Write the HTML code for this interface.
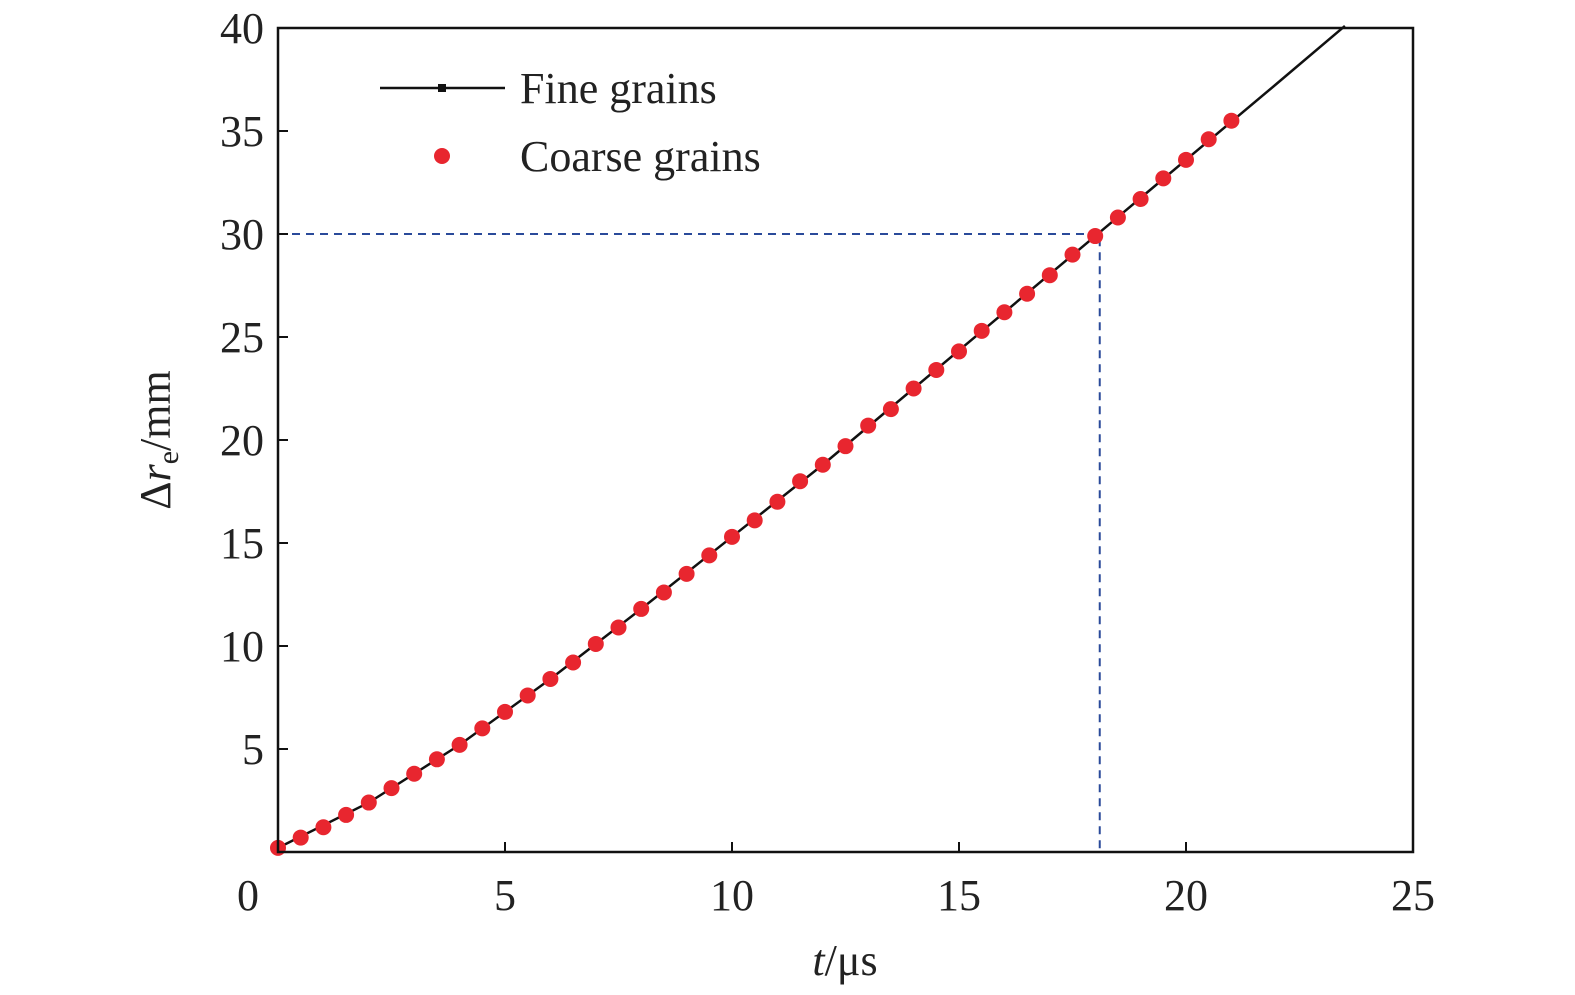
<!DOCTYPE html>
<html><head><meta charset="utf-8"><style>
html,body{margin:0;padding:0;background:#fff;}
svg{display:block;font-family:"Liberation Serif",serif;}
</style></head><body>
<svg id="chart" width="1575" height="995" viewBox="0 0 1575 995">
<g id="dashes"></g>
<g id="series"></g>
<g id="axes"></g>
<g>
  <line x1="380" y1="88" x2="505" y2="88" stroke="#111" stroke-width="2.5"/>
  <rect x="438" y="84" width="8" height="8" fill="#111"/>
  <text x="520" y="103" font-size="44" fill="#222">Fine grains</text>
  <circle cx="442" cy="156" r="8" fill="#e8262f"/>
  <text x="520" y="171" font-size="44" fill="#222">Coarse grains</text>
</g>
<text x="845" y="975" font-size="44" text-anchor="middle" fill="#222"><tspan font-style="italic">t</tspan>/μs</text>
<text transform="translate(170,440) rotate(-90)" font-size="44" text-anchor="middle" fill="#222">Δ<tspan font-style="italic">r</tspan><tspan font-size="30" dy="8">e</tspan><tspan dy="-8">/mm</tspan></text>
</svg>
<script>
const tValues=[0,0.5,1,1.5,2,2.5,3,3.5,4,4.5,5,5.5,6,6.5,7,7.5,8,8.5,9,9.5,10,10.5,11,11.5,12,12.5,13,13.5,14,14.5,15,15.5,16,16.5,17,17.5,18,18.5,19,19.5,20,20.5,21];
const coarseValues=[0.2,0.7,1.2,1.8,2.4,3.1,3.8,4.5,5.2,6.0,6.8,7.6,8.4,9.2,10.1,10.9,11.8,12.6,13.5,14.4,15.3,16.1,17.0,18.0,18.8,19.7,20.7,21.5,22.5,23.4,24.3,25.3,26.2,27.1,28.0,29.0,29.9,30.8,31.7,32.7,33.6,34.6,35.5];
const fineT=[0,2,4,6,8,10,12,14,16,18,20,22,23.5];
const fineValues=[0.2,2.4,5.2,8.4,11.8,15.3,18.8,22.5,26.2,29.9,33.6,37.3,40.1];
const xTicks=[0,5,10,15,20,25];
const yTicks=[5,10,15,20,25,30,35,40];
const refT=18.1, refY=30;
const X0=278,X1=1413,Y0=852,Y1=28;
const x=t=>X0+(t-0)/(25-0)*(X1-X0);
const y=v=>Y0-(v-0)/(40-0)*(Y0-Y1);
const NS="http://www.w3.org/2000/svg";
function mk(tag,attrs,parent){const e=document.createElementNS(NS,tag);for(const k in attrs)e.setAttribute(k,attrs[k]);parent.appendChild(e);return e;}
const axes=document.getElementById('axes'),series=document.getElementById('series'),dashes=document.getElementById('dashes');
let r=mk('rect',{x:X0,y:Y1,width:X1-X0,height:Y0-Y1,fill:'none',stroke:'#111','stroke-width':2.5},axes);


xTicks.forEach(t=>{
  let l=mk('line',{x1:x(t),x2:x(t),y1:Y0,y2:Y0-10,stroke:'#111','stroke-width':2},axes);
  
  
  let tx=mk('text',{x:t===0?x(t)-30:x(t),y:Y0+58,'font-size':44,'text-anchor':'middle',fill:'#222'},axes);
  tx.textContent=t;
  
  
});
yTicks.forEach(v=>{
  let l=mk('line',{x1:X0,x2:X0+10,y1:y(v),y2:y(v),stroke:'#111','stroke-width':2},axes);
  
  
  let tx=mk('text',{x:X0-14,y:y(v)+15,'font-size':44,'text-anchor':'end',fill:'#222'},axes);
  tx.textContent=v;
  
  
});
let d1=mk('polyline',{points:`${x(0)},${y(refY)} ${x(refT)},${y(refY)} ${x(refT)},${y(0)}`,fill:'none',stroke:'#2a4a9a','stroke-width':2,'stroke-dasharray':'8,6'},dashes);


let fl=mk('polyline',{points:fineT.map((t,i)=>x(t)+','+y(fineValues[i])).join(' '),fill:'none',stroke:'#111','stroke-width':2.5},series);


tValues.forEach((t,i)=>{
  let c=mk('circle',{cx:x(t),cy:y(coarseValues[i]),r:8,fill:'#e8262f'},series);
  
  
});
</script>
</body></html>
